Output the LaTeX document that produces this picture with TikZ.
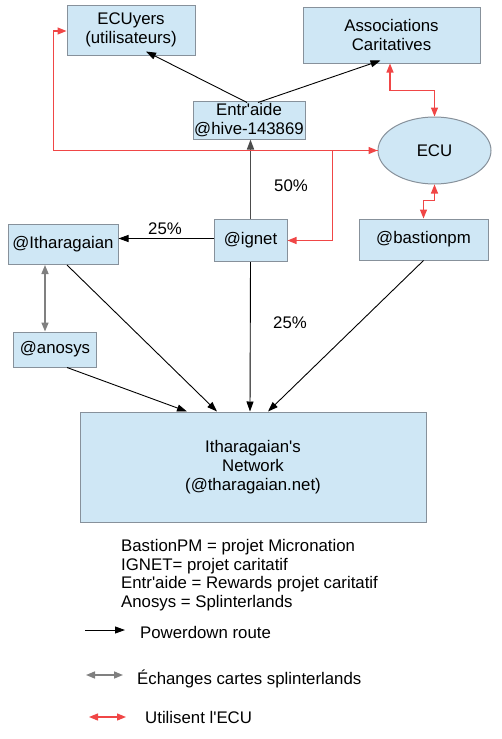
\documentclass[tikz,border=0pt]{standalone}
\usepackage{fontspec}
\setmainfont{Liberation Sans}
\newfontfamily\apos{Liberation Sans}
\usetikzlibrary{arrows.meta,shapes.geometric}
\definecolor{boxfill}{RGB}{207,231,245}
\definecolor{boxline}{RGB}{135,145,155}
\definecolor{redline}{RGB}{240,70,70}
\definecolor{grayline}{RGB}{128,128,128}
\newcommand{\ap}{{\apos'}}
\tikzset{
  x=1pt, y=-1pt,
  every node/.style={font=\fontsize{16.8}{19}\selectfont, text=black},
  box/.style={draw=boxline, fill=boxfill, line width=1pt, rectangle, inner sep=0pt, align=center},
  ellbox/.style={draw=boxline, fill=boxfill, line width=1pt, ellipse, inner sep=0pt},
  pd/.style={draw=black, line width=0.9pt, -{Triangle[length=10pt,width=7pt]}},
  pdthick/.style={draw=black!70, line width=1.6pt, -{Triangle[length=10pt,width=7pt]}},
  ecuarrow/.style={draw=redline, line width=1.2pt, {Triangle[length=9pt,width=7pt]}-{Triangle[length=9pt,width=7pt]}},
  ecuone/.style={draw=redline, line width=1.2pt, -{Triangle[length=9pt,width=7pt]}},
  cardarrow/.style={draw=grayline, line width=1.5pt, {Triangle[length=9pt,width=7pt]}-{Triangle[length=9pt,width=7pt]}},
  lbl/.style={inner sep=0pt}
}
\begin{document}
\begin{tikzpicture}
\useasboundingbox (0,0) rectangle (502,739);
% boxes
\node[box, minimum width=128pt, minimum height=50pt] (ecuyers) at (131,30) {ECUyers\\(utilisateurs)};
\node[box, minimum width=177pt, minimum height=56pt] (assoc) at (391.5,35) {Associations\\Caritatives};
\node[box, minimum width=112pt, minimum height=38pt] (entraide) at (249,120) {Entr\ap aide\\@hive-143869};
\node[ellbox, minimum width=113pt, minimum height=67pt] (ecu) at (434.5,150.5) {ECU};
\node[box, minimum width=73pt, minimum height=42pt] (ignet) at (250.5,240.5) {@ignet};
\node[box, minimum width=110pt, minimum height=40pt] (ith) at (63,244.5) {@Itharagaian};
\node[box, minimum width=129pt, minimum height=41pt] (bastion) at (423.5,239.5) {@bastionpm};
\node[box, minimum width=83pt, minimum height=35pt] (anosys) at (55,349.5) {@anosys};
\node[box, minimum width=346pt, minimum height=110pt] (net) at (253,467) {Itharagaian\ap s\\Network\\(@tharagaian.net)};

% black powerdown arrows
\draw[pd] ([xshift=-2pt,yshift=-2pt]entraide.north) -- ([xshift=15pt,yshift=4pt]ecuyers.south);
\draw[pd] ([xshift=9pt,yshift=-2pt]entraide.north) -- ([xshift=-11pt,yshift=3pt]assoc.south);
\draw[pdthick] (ignet.north) -- (ignet.north |- entraide.south);
\draw[pd] ([yshift=2pt]ignet.west) -- ([yshift=2pt]ignet.west -| ith.east);
\draw[pd] ([xshift=4pt]ith.south) -- ([xshift=-36pt]net.north);
\draw[pd] ([xshift=12pt]anosys.south) -- ([xshift=-66pt]net.north);
\draw[pd] (ignet.south) -- ([xshift=-3pt]net.north);
\draw[pd] (bastion.south) -- ([xshift=15pt]net.north);

% percentages
\node[lbl] (p25a) at (165,229) {25\%};
\node[lbl] (p50) at (291,186) {50\%};
\node[lbl] (p25b) at (290,323) {25\%};

% red ECU arrows
\draw[ecuarrow] ([yshift=-1pt]ecuyers.west) -- ++(-13,0) |- (ecu.west);
\draw[ecuone] (ecu.west) -- ++(-45,0) |- (ignet.east);
\draw[ecuarrow] ([xshift=-1.5pt]assoc.south) -- ++(0,27) -| (ecu.north);
\draw[ecuarrow] (ecu.south) -- ++(0,16) -| (bastion.north);

% gray exchange arrow
\draw[cardarrow] ([xshift=-18pt]ith.south) -- ([xshift=-18pt]ith.south |- anosys.north);

% legend
\node[lbl, anchor=west, align=left, font=\fontsize{16.8}{18.7}\selectfont] (legend) at (121,575)
  {BastionPM = projet Micronation\\IGNET= projet caritatif\\Entr\ap aide = Rewards projet caritatif\\Anosys = Splinterlands};
\coordinate (la1) at (85,630);
\coordinate (lb1) at (125,630);
\draw[pd] (la1) -- (lb1);
\node[lbl, anchor=west] (lt1) at (140,632) {Powerdown route};
\coordinate (la2) at (86,675);
\coordinate (lb2) at (123,675);
\draw[cardarrow] (la2) -- (lb2);
\node[lbl, anchor=west] (lt2) at (137,679) {Échanges cartes splinterlands};
\coordinate (la3) at (89,717);
\coordinate (lb3) at (126,717);
\draw[ecuarrow] (la3) -- (lb3);
\node[lbl, anchor=west] (lt3) at (145,717) {Utilisent l\ap ECU};
\end{tikzpicture}
\end{document}
